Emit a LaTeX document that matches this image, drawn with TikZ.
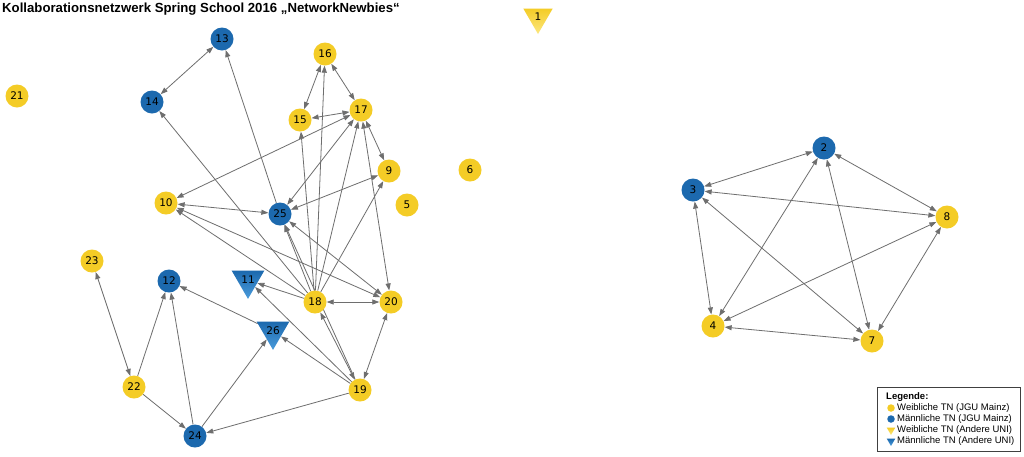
\documentclass[tikz,border=0pt]{standalone}
\usepackage{fontspec}
\setmainfont{Liberation Sans}
\newfontfamily\numfont{DejaVu Sans}
\usetikzlibrary{arrows.meta, shapes.geometric, backgrounds}

\definecolor{gelb}{HTML}{F4CC26}
\definecolor{gelbhell}{HTML}{FCE77E}
\definecolor{blau}{HTML}{1C69AE}
\definecolor{blauhell}{HTML}{4A9BDB}
\definecolor{kante}{HTML}{6E6E6E}

\tikzset{
  tn/.style={inner sep=0pt, font=\numfont\fontsize{10.5}{12}\selectfont},
  female/.style={tn, circle, minimum size=23pt, fill=gelb},
  male/.style={tn, circle, minimum size=23pt, fill=blau},
  tri/.style={tn, regular polygon, regular polygon sides=3, shape border rotate=180, minimum size=31pt},
  femaleuni/.style={tri, top color=gelb, bottom color=gelbhell},
  maleuni/.style={tri, top color=blau, bottom color=blauhell},
  link/.style={draw=kante, line width=0.8pt, -{Triangle[length=7pt,width=5pt]}},
  mutual/.style={link, {Triangle[length=7pt,width=5pt]}-{Triangle[length=7pt,width=5pt]}},
  legtext/.style={anchor=west, inner sep=0pt, font=\fontsize{9.5}{11}\selectfont},
}

\begin{document}
\begin{tikzpicture}[x=1pt,y=-1pt]
\useasboundingbox (0,0) rectangle (1024,456);
% Title
\node[anchor=base west, inner sep=0pt, font=\bfseries\fontsize{13.2}{15}\selectfont] (titel) at (2,12)
  {Kollaborationsnetzwerk Spring School 2016 „NetworkNewbies“};
% Nodes
\node[femaleuni, minimum size=34pt] (n1) at (538,17) {1};
\node[male]   (n2)  at (824,148) {2};
\node[male]   (n3)  at (693,190) {3};
\node[female] (n4)  at (713,326) {4};
\node[female] (n5)  at (407,205) {5};
\node[female] (n6)  at (470,170) {6};
\node[female] (n7)  at (872,341) {7};
\node[female] (n8)  at (947,217) {8};
\node[female] (n9)  at (389,171) {9};
\node[female] (n10) at (166,203) {10};
\node[maleuni] (n11) at (248,280) {11};
\node[male]   (n12) at (169,281) {12};
\node[male]   (n13) at (222,39)  {13};
\node[male]   (n14) at (152,102) {14};
\node[female] (n15) at (300,120) {15};
\node[female] (n16) at (325,54)  {16};
\node[female] (n17) at (361,110) {17};
\node[female] (n18) at (315,302) {18};
\node[female] (n19) at (360,390) {19};
\node[female] (n20) at (391,302) {20};
\node[female] (n21) at (17,96)   {21};
\node[female] (n22) at (134,387) {22};
\node[female] (n23) at (92,261)  {23};
\node[male]   (n24) at (195,436) {24};
\node[male]   (n25) at (280,214) {25};
\node[maleuni] (n26) at (273,331) {26};
% Edges
\begin{pgfonlayer}{background}
\fill[white] (0,0) rectangle (1024,456);
\draw[link] (n25) -- (n13);
\draw[link] (n18) -- (n14);
\draw[link] (n18) -- (n15);
\draw[link] (n18) -- (n16);
\draw[link] (n18) -- (n17);
\draw[link] (n18) -- (n9);
\draw[link] (n18) -- (n10);
\draw[link] (n18) -- (n25);
\draw[link] (n19) -- (n25);
\draw[link] (n18) -- (n11);
\draw[link] (n19) -- (n11);
\draw[link] (n19) -- (n26);
\draw[link] (n19) -- (n24);
\draw[link] (n24) -- (n26);
\draw[link] (n26) -- (n12);
\draw[link] (n24) -- (n12);
\draw[link] (n22) -- (n12);
\draw[link] (n22) -- (n24);
\draw[mutual] (n13) -- (n14);
\draw[mutual] (n16) -- (n15);
\draw[mutual] (n16) -- (n17);
\draw[mutual] (n15) -- (n17);
\draw[mutual] (n10) -- (n17);
\draw[mutual] (n25) -- (n17);
\draw[mutual] (n17) -- (n9);
\draw[mutual] (n17) -- (n20);
\draw[mutual] (n9) -- (n25);
\draw[mutual] (n10) -- (n25);
\draw[mutual] (n10) -- (n20);
\draw[mutual] (n25) -- (n20);
\draw[mutual] (n18) -- (n20);
\draw[mutual] (n18) -- (n19);
\draw[mutual] (n19) -- (n20);
\draw[mutual] (n23) -- (n22);
% right group
\draw[mutual] (n2) -- (n3);
\draw[mutual] (n2) -- (n8);
\draw[mutual] (n2) -- (n4);
\draw[mutual] (n2) -- (n7);
\draw[mutual] (n3) -- (n8);
\draw[mutual] (n3) -- (n4);
\draw[mutual] (n3) -- (n7);
\draw[mutual] (n8) -- (n4);
\draw[mutual] (n8) -- (n7);
\draw[mutual] (n4) -- (n7);
\end{pgfonlayer}
% Legend
\draw[draw=black!75, line width=0.7pt] (877,387) rectangle (1020,451);
\node[legtext, font=\bfseries\fontsize{9.5}{11}\selectfont] (legende) at (886,397) {Legende:};
\node[circle, minimum size=7.5pt, inner sep=0pt, fill=gelb] (lw) at (891,408) {};
\node[circle, minimum size=7.5pt, inner sep=0pt, fill=blau] (lm) at (891,419) {};
\node[regular polygon, regular polygon sides=3, shape border rotate=180, minimum size=10pt, inner sep=0pt, top color=gelb, bottom color=gelbhell] (lwu) at (891,430) {};
\node[regular polygon, regular polygon sides=3, shape border rotate=180, minimum size=10pt, inner sep=0pt, top color=blau, bottom color=blauhell] (lmu) at (891,441) {};
\node[legtext] at (897,408) {Weibliche TN (JGU Mainz)};
\node[legtext] at (897,419) {Männliche TN (JGU Mainz)};
\node[legtext] at (897,430) {Weibliche TN (Andere UNI)};
\node[legtext] at (897,441) {Männliche TN (Andere UNI)};
\end{tikzpicture}
\end{document}
